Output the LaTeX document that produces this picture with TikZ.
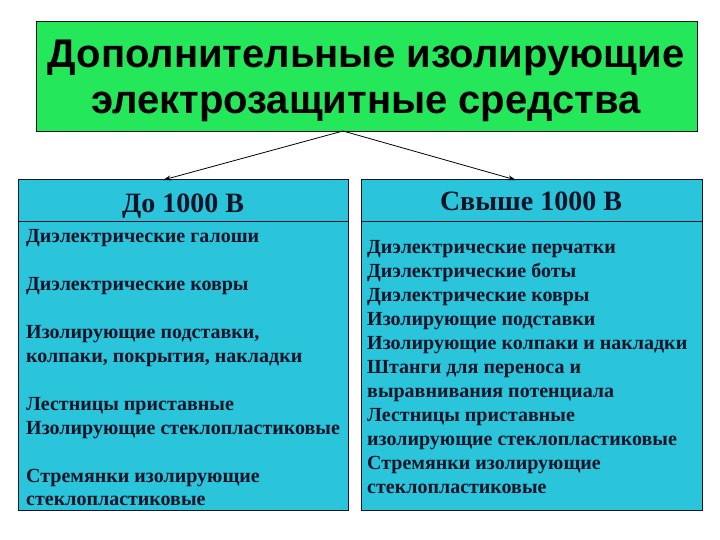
\documentclass[tikz,border=0pt]{standalone}
\usepackage{fontspec}
\setmainfont{Liberation Serif}
\newfontfamily\titlefont{Liberation Sans}
\usetikzlibrary{arrows.meta}
\definecolor{titlegreen}{RGB}{36,232,90}
\definecolor{boxblue}{RGB}{42,197,219}
\definecolor{edge}{RGB}{10,20,40}
\tikzset{
  titlebox/.style={draw=edge, line width=1pt, fill=titlegreen, minimum width=661pt, minimum height=110pt, inner sep=0pt},
  bluebox/.style={draw=edge, line width=1pt, fill=boxblue, minimum width=330pt, minimum height=330pt, inner sep=0pt},
  ttl/.style={font=\titlefont\bfseries\fontsize{40}{44}\selectfont, anchor=base, inner sep=0pt},
  hdr/.style={font=\bfseries\fontsize{28}{30}\selectfont, anchor=base, inner sep=0pt, text=edge},
  item/.style={font=\bfseries\fontsize{20}{24}\selectfont, anchor=base west, inner sep=0pt, text=edge},
  conn/.style={-{Stealth[length=8pt,width=5pt]}, line width=0.8pt, black}
}
\begin{document}
\begin{tikzpicture}[x=1pt,y=-1pt]
\useasboundingbox[fill=white] (0,0) rectangle (720,540);
% title
\node[titlebox] (title) at (366.5,77) {};
\node[ttl] (t1) at (366,68) {Дополнительные изолирующие};
\node[ttl] (t2) at (366,114) {электрозащитные средства};
% boxes
\node[bluebox] (lbox) at (183,345) {};
\node[bluebox, minimum width=341pt] (rbox) at (531.5,345) {};
\draw[edge, line width=1pt] (lbox.west |- 0,222) -- (lbox.east |- 0,222);
\draw[edge, line width=1pt] (rbox.west |- 0,222) -- (rbox.east |- 0,222);
% headers
\node[hdr] (h1) at (183,212) {До 1000 В};
\node[hdr] (h2) at (531,211) {Свыше 1000 В};
% connectors
\coordinate (apex) at (343,131);
\coordinate (lend) at (163,180);
\coordinate (rend) at (516,180);
\draw[conn] (apex) -- (lend);
\draw[conn] (apex) -- (rend);
% left items
\node[item] (l1) at (26,242) {Диэлектрические галоши};
\node[item] (l2) at (26,290) {Диэлектрические ковры};
\node[item] (l3) at (26,338) {Изолирующие подставки,};
\node[item] (l4) at (26,362) {колпаки, покрытия, накладки};
\node[item] (l5) at (26,410) {Лестницы приставные};
\node[item] (l6) at (26,434) {Изолирующие стеклопластиковые};
\node[item] (l7) at (26,482) {Стремянки изолирующие};
\node[item] (l8) at (26,505) {стеклопластиковые};
% right items
\node[item] (r1) at (367,253) {Диэлектрические перчатки};
\node[item] (r2) at (367,277) {Диэлектрические боты};
\node[item] (r3) at (367,301) {Диэлектрические ковры};
\node[item] (r4) at (367,325) {Изолирующие подставки};
\node[item] (r5) at (367,349) {Изолирующие колпаки и накладки};
\node[item] (r6) at (367,373) {Штанги для переноса и};
\node[item] (r7) at (367,397) {выравнивания потенциала};
\node[item] (r8) at (367,421) {Лестницы приставные};
\node[item] (r9) at (367,445) {изолирующие стеклопластиковые};
\node[item] (r10) at (367,469) {Стремянки изолирующие};
\node[item] (r11) at (367,493) {стеклопластиковые};
\end{tikzpicture}
\end{document}
